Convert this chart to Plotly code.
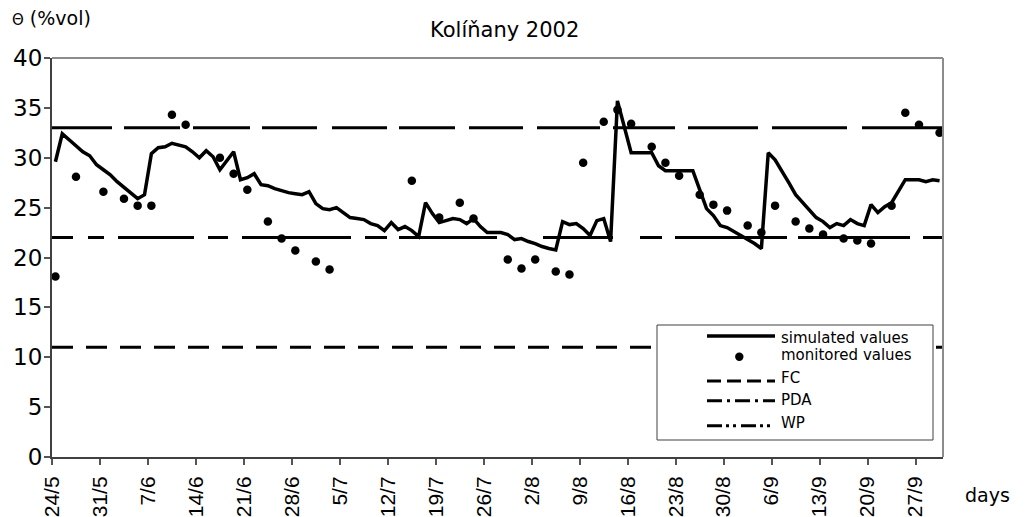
import pandas as pd
import plotly.graph_objects as go

# ---------------- data ----------------
START = "2002-05-24"
END = "2002-10-01"

sim_values = [
    29.6, 32.4, 31.8, 31.2, 30.6, 30.2, 29.3, 28.8, 28.3, 27.6,
    27.0, 26.4, 25.9, 26.3, 30.4, 31.0, 31.1, 31.45, 31.3, 31.1,
    30.6, 30.0, 30.7, 30.1, 28.8, 29.7, 30.6, 27.8, 28.0, 28.4,
    27.3, 27.2, 26.9, 26.7, 26.5, 26.4, 26.3, 26.6, 25.4, 24.9,
    24.8, 25.0, 24.5, 24.0, 23.9, 23.8, 23.4, 23.2, 22.7, 23.5,
    22.8, 23.1, 22.7, 22.1, 25.5, 24.4, 23.5, 23.7, 23.9, 23.8,
    23.4, 23.9, 23.1, 22.5, 22.5, 22.5, 22.3, 21.8, 21.9, 21.6,
    21.4, 21.1, 20.9, 20.75, 23.6, 23.3, 23.4, 22.9, 22.2, 23.7,
    23.9, 21.6, 35.7, 33.0, 30.5, 30.5, 30.5, 30.5, 29.2, 28.7,
    28.7, 28.7, 28.7, 28.7, 26.8, 24.9, 24.2, 23.2, 23.0, 22.6,
    22.3, 21.8, 21.4, 20.9, 30.5, 29.8, 28.7, 27.5, 26.3, 25.5,
    24.7, 24.0, 23.6, 23.0, 23.4, 23.2, 23.8, 23.4, 23.2, 25.3,
    24.5, 25.1, 25.5, 26.6, 27.8, 27.8, 27.8, 27.6, 27.8, 27.7,
]
sim_dates = pd.date_range(START, periods=len(sim_values), freq="D")

mon_dates = [
    "2002-05-24", "2002-05-27", "2002-05-31", "2002-06-03", "2002-06-05",
    "2002-06-07", "2002-06-10", "2002-06-12", "2002-06-17", "2002-06-19",
    "2002-06-21", "2002-06-24", "2002-06-26", "2002-06-28", "2002-07-01",
    "2002-07-03", "2002-07-15", "2002-07-19", "2002-07-22", "2002-07-24",
    "2002-07-29", "2002-07-31", "2002-08-02", "2002-08-05", "2002-08-07",
    "2002-08-09", "2002-08-12", "2002-08-14", "2002-08-16", "2002-08-19",
    "2002-08-21", "2002-08-23", "2002-08-26", "2002-08-28", "2002-08-30",
    "2002-09-02", "2002-09-04", "2002-09-06", "2002-09-09", "2002-09-11",
    "2002-09-13", "2002-09-16", "2002-09-18", "2002-09-20", "2002-09-23",
    "2002-09-25", "2002-09-27", "2002-09-30",
]
mon_values = [
    18.1, 28.1, 26.6, 25.9, 25.2,
    25.2, 34.3, 33.3, 30.0, 28.4,
    26.8, 23.6, 21.9, 20.7, 19.6,
    18.8, 27.7, 24.0, 25.5, 23.9,
    19.8, 18.9, 19.8, 18.6, 18.3,
    29.5, 33.6, 34.8, 33.4, 31.1,
    29.5, 28.2, 26.3, 25.3, 24.7,
    23.2, 22.5, 25.2, 23.6, 22.9,
    22.3, 21.9, 21.7, 21.4, 25.2,
    34.5, 33.3, 32.5,
]

tick_dates = [
    "2002-05-24", "2002-05-31", "2002-06-07", "2002-06-14", "2002-06-21",
    "2002-06-28", "2002-07-05", "2002-07-12", "2002-07-19", "2002-07-26",
    "2002-08-02", "2002-08-09", "2002-08-16", "2002-08-23", "2002-08-30",
    "2002-09-06", "2002-09-13", "2002-09-20", "2002-09-27",
]
tick_labels = [
    "24/5", "31/5", "7/6", "14/6", "21/6", "28/6", "5/7", "12/7", "19/7",
    "26/7", "2/8", "9/8", "16/8", "23/8", "30/8", "6/9", "13/9", "20/9", "27/9",
]

FC = 33.0
PDA = 22.0
WP = 11.0

legend_labels = ["simulated values", "monitored values", "FC", "PDA", "WP"]

# ---------------- figure ----------------
WIDE = "DejaVu Sans, Verdana, sans-serif"
ARIAL = "Arial, Liberation Sans, sans-serif"
OFF = 8                      # page body margin around the plot div
W, H = 1028 - OFF, 517 - OFF
# plot area in page pixels: x 52..943, y 58..457
ML, MR, MT, MB = 52 - OFF, 1028 - 943, 58 - OFF, 517 - 457
PW, PH = W - ML - MR, H - MT - MB


def px(xp):
    """page x pixel -> paper x"""
    return (xp - OFF - ML) / PW


def py(yp):
    """page y pixel -> paper y"""
    return (MT + PH - (yp - OFF)) / PH


half_day = pd.Timedelta(hours=12)
sim_x = sim_dates + half_day
mon_x = pd.to_datetime(mon_dates) + half_day

fig = go.Figure()

shapes = []
FC_DASH = "60px,12px,56px,13px,57px,12px,55px,15px,55px,12px,56px,14px,54px,14px,63px,13px,62px,13px,70px,14px,75px,15px,90px,30px"
PDA_DASH = "21px,15px,16px,14px,76px,14px,20px,14px,109px,14px,22px,12px,98px,46px,70px,27px,22px,13px,112px,11px,112px,13px,40px,30px"
WP_DASH = "21px,13px"
for val, dash in ((FC, FC_DASH), (PDA, PDA_DASH), (WP, WP_DASH)):
    shapes.append(dict(type="line", xref="paper", yref="y", x0=0, x1=1,
                       y0=val, y1=val, layer="below",
                       line=dict(color="black", width=3, dash=dash)))

fig.add_trace(go.Scatter(x=sim_x, y=sim_values, mode="lines",
                         line=dict(color="black", width=3.5),
                         showlegend=False, name=legend_labels[0]))
fig.add_trace(go.Scatter(x=mon_x, y=mon_values, mode="markers",
                         marker=dict(color="black", size=8.5),
                         showlegend=False, name=legend_labels[1]))

# plot-area border (top, right)
shapes.append(dict(type="line", xref="paper", yref="paper", x0=0, x1=1, y0=1, y1=1,
                   line=dict(color="#8c8c8c", width=2), layer="above"))
shapes.append(dict(type="line", xref="paper", yref="paper", x0=1, x1=1, y0=0, y1=1,
                   line=dict(color="#8c8c8c", width=2), layer="above"))

# manual legend
LX0, LX1, LY0, LY1 = 657, 933, 325, 440
shapes.append(dict(type="rect", xref="paper", yref="paper",
                   x0=px(LX0), x1=px(LX1), y0=py(LY1), y1=py(LY0),
                   fillcolor="white", line=dict(color="#404040", width=1),
                   layer="below"))
SX0, SX1 = 707, 775
rows_line = [336, 356.7, 381, 400.7, 425.7]
rows_text = [338, 355, 378, 400, 423]
sample_styles = [
    dict(color="black", width=3.5, dash="solid"),
    None,
    dict(color="black", width=3, dash="14px,6px"),
    dict(color="black", width=3, dash="15px,5px,3px,5px"),
    dict(color="black", width=3, dash="15px,4px,3px,4px,3px,5px"),
]
for i, st in enumerate(sample_styles):
    if st is None:
        cx, cy, r = 739.3, rows_line[i], 4.2
        shapes.append(dict(type="circle", xref="paper", yref="paper",
                           x0=px(cx - r), x1=px(cx + r), y0=py(cy + r), y1=py(cy - r),
                           fillcolor="black", line=dict(color="black", width=0),
                           layer="above"))
    else:
        shapes.append(dict(type="line", xref="paper", yref="paper",
                           x0=px(SX0), x1=px(SX1), y0=py(rows_line[i]), y1=py(rows_line[i]),
                           line=st, layer="above"))

annotations = []
for i, lab in enumerate(legend_labels):
    annotations.append(dict(text=lab, xref="paper", yref="paper",
                            x=px(779), y=py(rows_text[i]), xanchor="left", yanchor="middle",
                            showarrow=False, font=dict(family=WIDE, size=15, color="black")))

annotations.append(dict(text="Kolíňany 2002", xref="paper", yref="paper",
                        x=px(504), y=py(30), xanchor="center", yanchor="middle",
                        showarrow=False, font=dict(family=WIDE, size=21, color="black")))
annotations.append(dict(text="<span style='font-size:15px'>Θ</span> (%vol)",
                        xref="paper", yref="paper",
                        x=px(10), y=py(18), xanchor="left", yanchor="middle",
                        showarrow=False, font=dict(family=WIDE, size=19, color="black")))
annotations.append(dict(text="days", xref="paper", yref="paper",
                        x=px(963), y=py(495), xanchor="left", yanchor="middle",
                        showarrow=False, font=dict(family=WIDE, size=19, color="black")))

fig.update_layout(
    width=W, height=H,
    margin=dict(l=ML, r=MR, t=MT, b=MB, autoexpand=False),
    paper_bgcolor="white", plot_bgcolor="white",
    showlegend=False,
    shapes=shapes,
    annotations=annotations,
    xaxis=dict(type="date", range=[START, END], tickmode="array",
               tickvals=tick_dates, ticktext=tick_labels, tickangle=-90,
               ticks="outside", ticklen=6, tickwidth=1.5, tickcolor="#555555",
               showline=True, linecolor="#404040", linewidth=2,
               showgrid=False, zeroline=False, automargin=False,
               ticklabelstandoff=3,
               tickfont=dict(family=ARIAL, size=21, color="black")),
    yaxis=dict(range=[0, 40], tick0=0, dtick=5,
               ticks="outside", ticklen=6, tickwidth=1.5, tickcolor="#555555",
               showline=True, linecolor="#404040", linewidth=2,
               showgrid=False, zeroline=False, automargin=False,
               ticklabelstandoff=-3,
               tickfont=dict(family=WIDE, size=23, color="black")),
)

fig.write_html("out.html")
